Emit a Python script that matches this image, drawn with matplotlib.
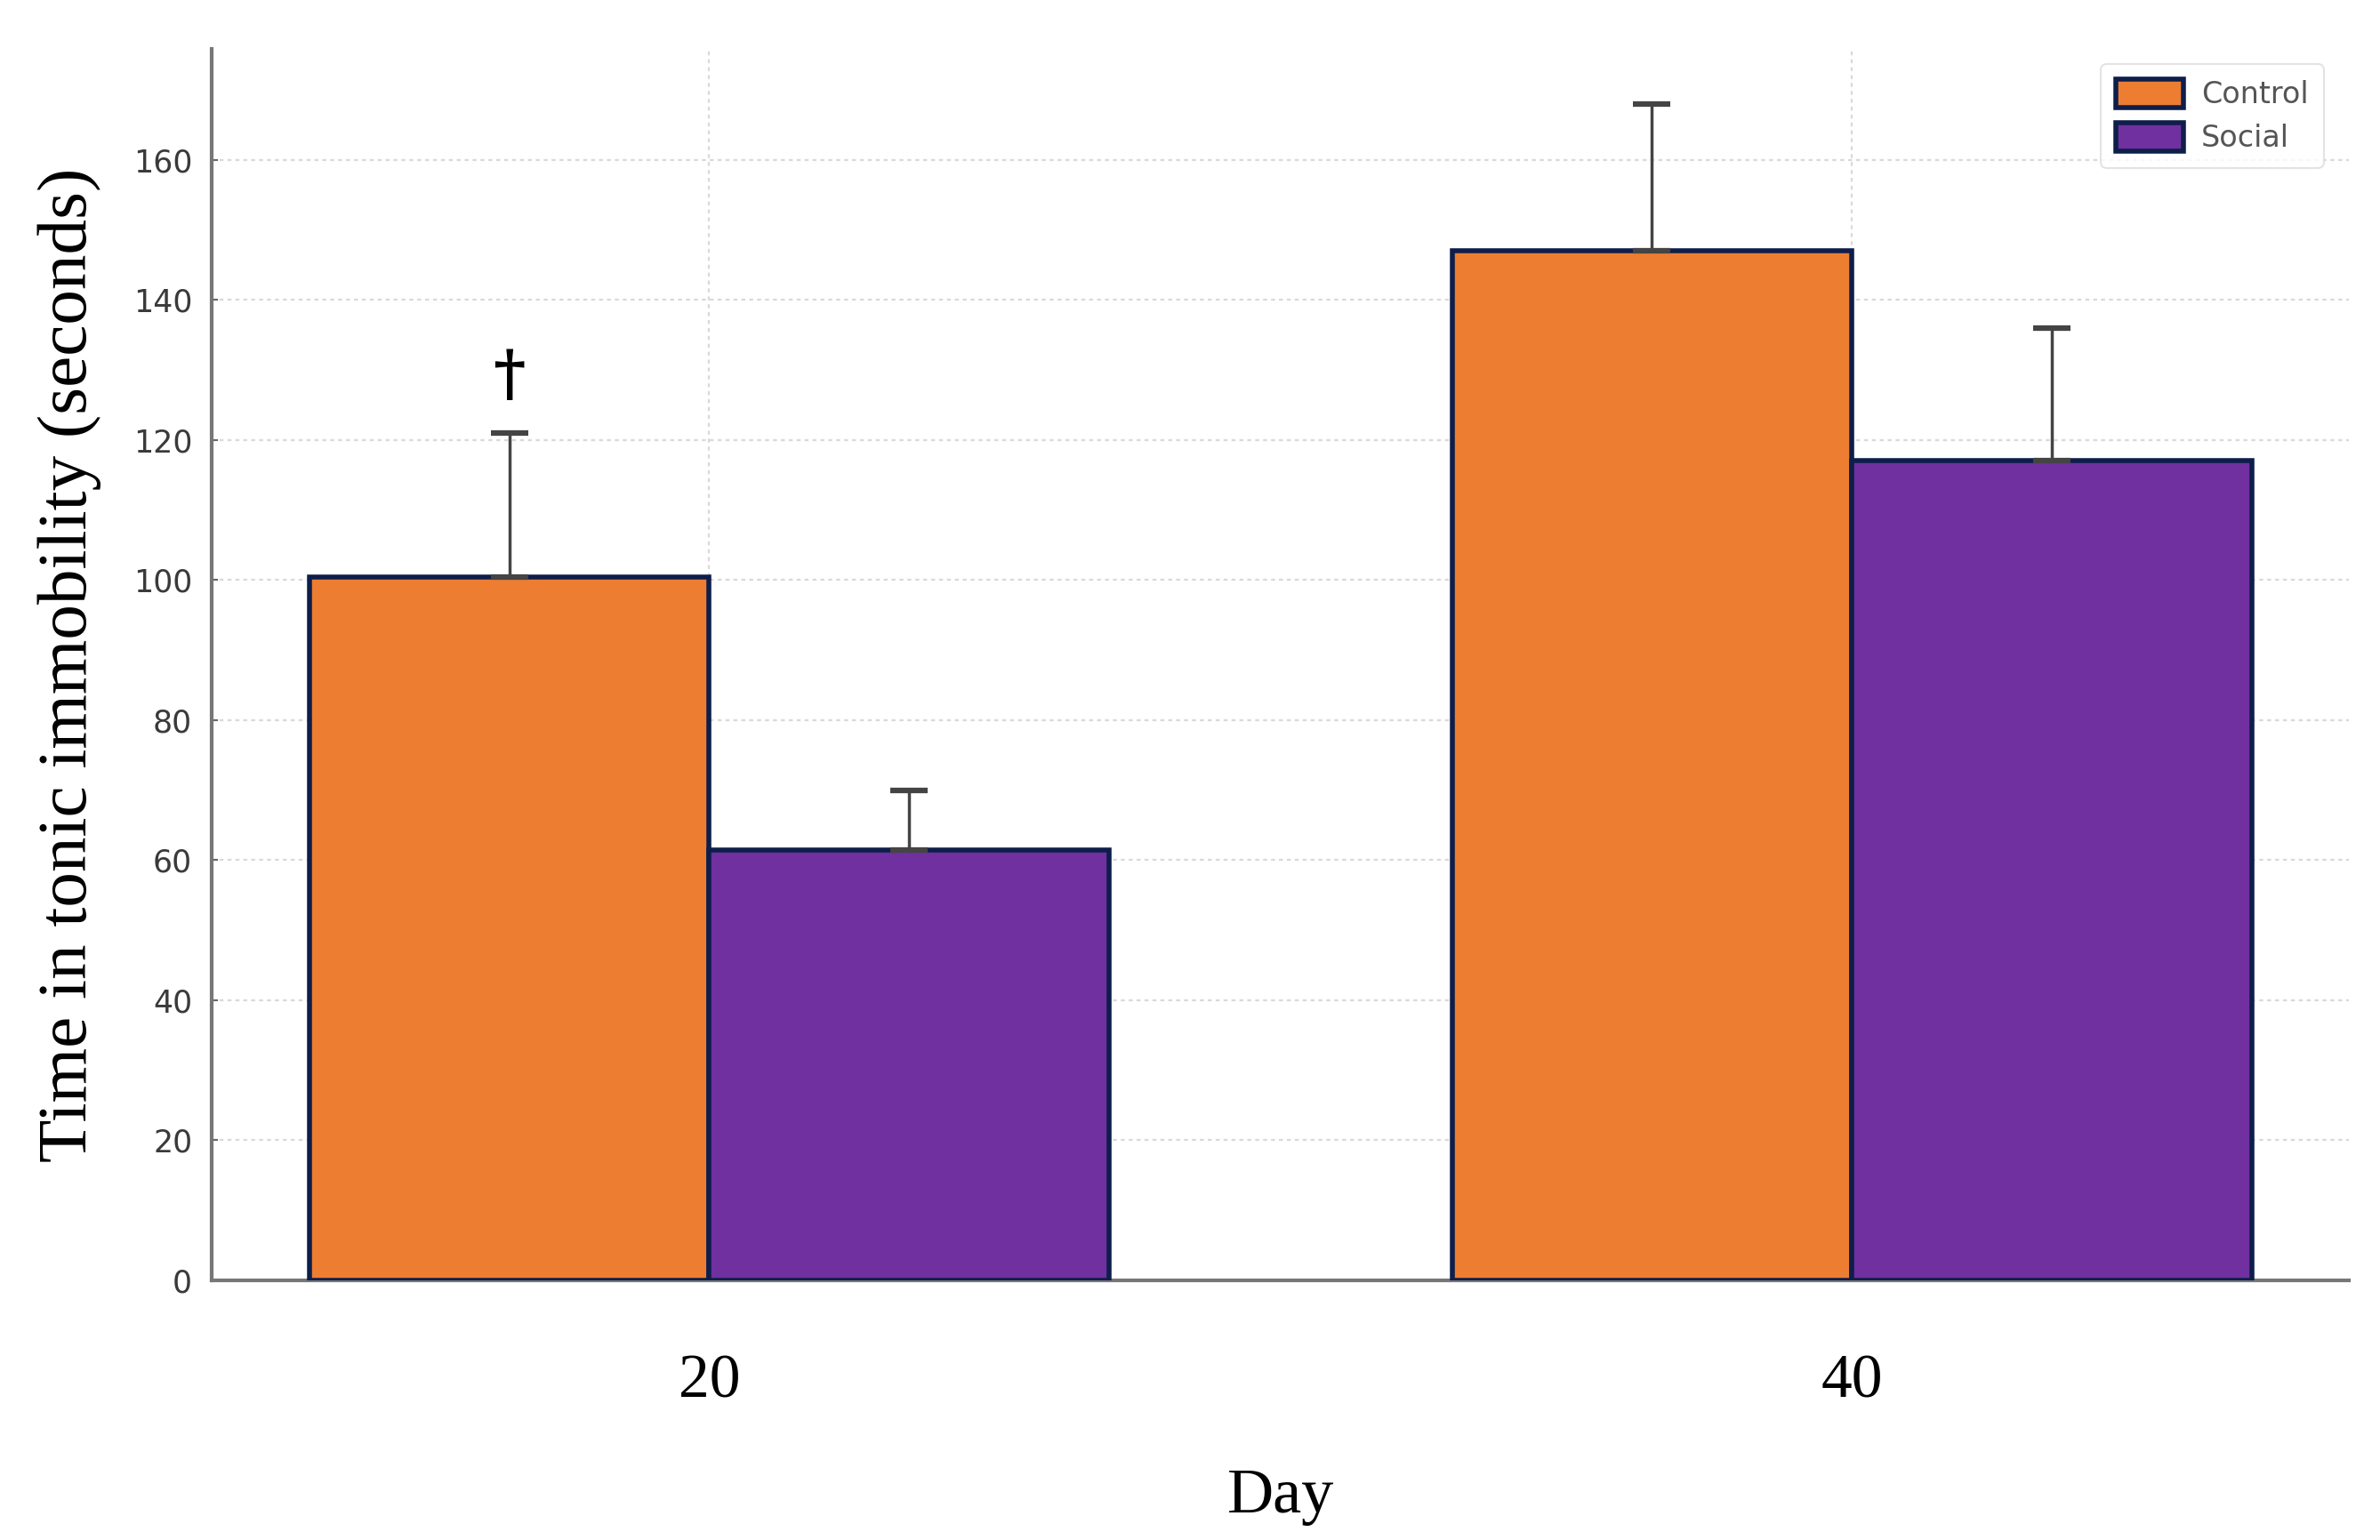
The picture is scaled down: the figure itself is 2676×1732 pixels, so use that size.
import matplotlib
matplotlib.use("Agg")
import matplotlib.pyplot as plt
import numpy as np

days = ["20", "40"]
groups = ["Control", "Social"]
control_mean = [100.4, 147.0]
control_err = [20.6, 21.0]
social_mean = [61.4, 117.0]
social_err = [8.6, 19.0]
y_ticks = [0, 20, 40, 60, 80, 100, 120, 140, 160]
sig_marks = ["\u2020", ""]  # dagger above Control on day 20
sig_y = [129.0, None]

fill_colors = ["#ED7D31", "#7030A0"]
edge_color = "#0E1E4A"

fig = plt.figure(figsize=(26.76, 17.32), dpi=100)
ax = fig.add_axes([0.0891, 0.1687, 0.8979, 0.7994])

x = np.arange(len(days))
w = 0.35
means = [control_mean, social_mean]
errs = [control_err, social_err]
offsets = [-w / 2, w / 2]
for i, g in enumerate(groups):
    ax.bar(x + offsets[i], means[i], w, color=fill_colors[i], edgecolor=edge_color,
           linewidth=4, label=g, zorder=3)
    ax.errorbar(x + offsets[i], means[i], yerr=[np.zeros(len(days)), errs[i]],
                fmt="none", ecolor="#444444", elinewidth=2.5, capsize=15,
                capthick=4.5, zorder=4)

for xi, m, yy in zip(x, sig_marks, sig_y):
    if m:
        ax.text(xi - w / 2, yy, m, ha="center", va="center", fontsize=50,
                family="DejaVu Serif", weight="bold", color="black", zorder=5)

ax.set_ylim(0, 175.8)
ax.set_xlim(-0.435, 1.435)
ax.set_yticks(y_ticks)
ax.set_xticks(x)
ax.set_xticklabels(days, family="Liberation Serif", fontsize=50)
ax.tick_params(axis="x", length=0, pad=60)
ax.tick_params(axis="y", length=5, direction="in", width=1.5, color="#666666",
               labelsize=25, labelcolor="#3a3a3a", pad=16)

ax.set_xlabel("Day", family="Liberation Serif", fontsize=52, labelpad=46)
ax.set_ylabel("Time in tonic immobility (seconds)", family="Liberation Serif",
              fontsize=57, labelpad=26)

ax.grid(True, linestyle=(0, (2, 2)), color="#d9d9d9", linewidth=1.6, zorder=0)
ax.set_axisbelow(True)
for s in ["top", "right"]:
    ax.spines[s].set_visible(False)
for s in ["left", "bottom"]:
    ax.spines[s].set_color("#777777")
    ax.spines[s].set_linewidth(3)

leg = ax.legend(loc="upper right", fontsize=24, handlelength=2.3, handleheight=1.1,
                frameon=True, fancybox=True, labelcolor="#555555",
                borderpad=0.5, labelspacing=0.45, handletextpad=0.6,
                bbox_to_anchor=(0.995, 1.0))
leg.get_frame().set_edgecolor("#dddddd")
leg.get_frame().set_linewidth(1.5)

fig.savefig("out.png", dpi=100, facecolor="white")
